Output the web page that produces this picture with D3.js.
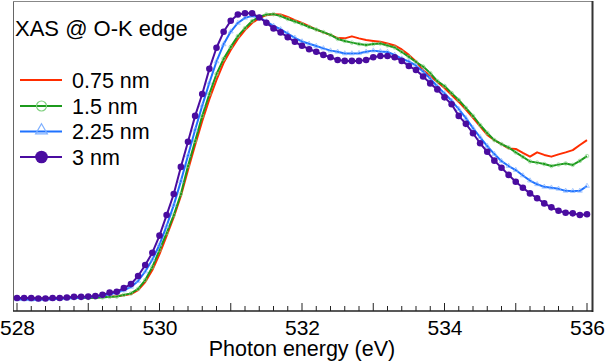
<!DOCTYPE html>
<html><head><meta charset="utf-8">
<script src="https://cdn.jsdelivr.net/npm/d3@7"></script>
<style>
html,body{margin:0;padding:0;background:#fff;}
svg text{font-family:"Liberation Sans", Arial, sans-serif;fill:#000;}
</style></head>
<body>
<svg id="c" width="605" height="361"></svg>
<script>
// Photon energy grid 528.0 .. 536.0 eV, step 0.1 (listed explicitly)
const energy = [528.0,528.1,528.2,528.3,528.4,528.5,528.6,528.7,528.8,528.9,
529.0,529.1,529.2,529.3,529.4,529.5,529.6,529.7,529.8,529.9,
530.0,530.1,530.2,530.3,530.4,530.5,530.6,530.7,530.8,530.9,
531.0,531.1,531.2,531.3,531.4,531.5,531.6,531.7,531.8,531.9,
532.0,532.1,532.2,532.3,532.4,532.5,532.6,532.7,532.8,532.9,
533.0,533.1,533.2,533.3,533.4,533.5,533.6,533.7,533.8,533.9,
534.0,534.1,534.2,534.3,534.4,534.5,534.6,534.7,534.8,534.9,
535.0,535.1,535.2,535.3,535.4,535.5,535.6,535.7,535.8,535.9,536.0];

// Normalized XAS intensity (a.u., peak = 100)
const s075 = [0,0,0,-0.1,-0.1,0,0,0.1,0.1,0.2,
0.2,0.3,0.4,0.5,0.6,1.0,1.4,2.8,5.6,9.8,
15.4,21.8,28.4,35.8,44.9,53.7,62.1,69.8,76.5,82.5,
87.0,90.9,94.0,96.5,98.2,99.3,99.6,99.5,98.6,97.5,
96.5,95.4,94.2,93.2,92.3,91.2,91.1,91.8,91.1,90.5,
90.2,89.9,89.3,88.6,87.2,85.3,83.0,80.0,77.9,75.8,
73.7,71.2,68.8,66.1,63.2,60.2,57.2,55.4,54.0,52.5,
52.3,50.9,49.6,51.1,50.2,49.6,50.4,51.1,51.9,53.7,55.4];

const s15 = [-0.2,-0.2,-0.3,-0.3,-0.2,-0.2,-0.1,0,0,0.1,
0,0.1,0.2,0.4,0.5,1.1,1.6,3.2,6.3,10.9,
16.8,22.8,29.1,36.5,46.3,55.1,63.9,71.6,78.6,83.9,
88.1,91.9,94.7,97.2,98.6,99.5,99.6,98.9,97.9,97.0,
96.1,95.1,94.2,93.3,92.3,90.9,90.2,89.6,89.1,88.8,
89.1,89.3,88.6,87.9,86.3,84.6,82.8,81.2,78.9,76.1,
74.4,71.9,69.5,66.7,63.9,60.7,57.9,55.4,54.0,52.8,
51.1,49.5,47.9,47.5,47.0,46.3,46.8,47.2,46.7,48.1,49.8];

const s225 = [-0.5,-0.5,-0.6,-0.6,-0.5,-0.4,-0.3,-0.2,0,0.1,
0.3,0.5,0.8,1.3,1.9,2.7,3.9,6.0,9.3,13.5,
18.7,25.3,32.6,41.0,50.0,59.0,67.5,75.5,83.0,89.0,
93.5,96.5,98.3,99.0,98.5,97.0,95.5,94.3,92.8,91.3,
90.0,89.2,88.4,87.6,86.8,86.4,85.8,85.8,85.9,86.4,
86.8,86.5,86.3,85.3,84.0,83.0,81.5,79.5,77.0,74.2,
71.8,69.2,66.3,63.1,59.6,56.4,53.3,50.5,48.0,46.3,
44.9,43.0,41.2,39.9,39.0,38.7,38.3,37.6,37.5,37.6,39.3];

const s3 = [0,0,0,-0.2,-0.2,0,0,0.2,0.4,0.4,
0.5,0.7,1.1,1.9,2.2,3.5,4.9,7.7,11.6,15.9,
21.9,29.1,36.5,46.0,54.8,63.9,71.6,80.4,87.8,93.4,
97.3,99.5,99.9,99.9,98.4,96.6,94.6,93.2,91.5,89.9,
88.5,87.3,86.4,85.3,84.5,83.5,83.2,83.2,83.2,83.5,
84.5,84.9,84.9,84.5,83.2,81.4,80.0,77.7,75.3,73.2,
70.4,68.0,63.9,61.1,57.8,54.3,51.3,48.2,45.7,43.2,
40.8,38.7,36.7,35.0,33.2,31.8,30.6,29.9,29.7,29.1,29.4];

const seriesNames = ["0.75 nm","1.5 nm","2.25 nm","3 nm"];
const xTickLabels = [528,530,532,534,536];
const title = "XAS @ O-K edge";
const xTitle = "Photon energy (eV)";

const colors = ["#ff2d00","#1c9a1c","#1f72ff","#4a0ca0"];
const markerColors = ["none","#7fd07f","#7fb0ff","#4a0ca0"];

const svg = d3.select("#c");
const x = d3.scaleLinear().domain([528,536]).range([17,587]);
const y = d3.scaleLinear().domain([0,100]).range([298,13]);

// frame
svg.append("line").attr("x1",13.5).attr("x2",13.5).attr("y1",1).attr("y2",311).attr("stroke","#666").attr("stroke-width",1);
svg.append("line").attr("x1",13).attr("x2",593).attr("y1",1.5).attr("y2",1.5).attr("stroke","#888").attr("stroke-width",1);
svg.append("line").attr("x1",592.5).attr("x2",592.5).attr("y1",1).attr("y2",312).attr("stroke","#333").attr("stroke-width",2);

// x axis: minor ticks 0.2 eV, major 1 eV, labels every 2 eV
const gx = svg.append("g").attr("transform","translate(0,311)");
const minor = d3.range(0,41).map(i=>528+i*0.2);
gx.selectAll("line.mn").data(minor).join("line")
  .attr("x1",d=>x(d)).attr("x2",d=>x(d))
  .attr("y1",0).attr("y2",d=>Math.abs(d-Math.round(d))<1e-6 ? -8 : -5)
  .attr("stroke","#222").attr("stroke-width",1);
svg.append("line").attr("x1",13).attr("x2",593).attr("y1",311).attr("y2",311).attr("stroke","#222").attr("stroke-width",1.5);
const axis = d3.axisBottom(x).tickValues(xTickLabels).tickSize(0).tickPadding(0).tickFormat(d3.format("d"));
const ga = svg.append("g").attr("transform","translate(0,320)").call(axis);
ga.select(".domain").remove();
ga.selectAll("text").attr("font-size",21).attr("dy","0.72em").style("font-family","'Liberation Sans', Arial, sans-serif").attr("fill","#000");

svg.append("text").attr("x",302).attr("y",356).attr("text-anchor","middle").attr("font-size",21.5).text(xTitle);

// data lines
const all = [s075,s15,s225,s3];
const line = d3.line().x(d=>x(d[0])).y(d=>y(d[1]));
all.forEach((s,i)=>{
  const pts = energy.map((e,j)=>[e,s[j]]);
  svg.append("path").datum(pts).attr("d",line).attr("fill","none")
    .attr("stroke",colors[i]).attr("stroke-width",2).attr("stroke-linejoin","round");
  if(i===1){
    svg.append("g").selectAll("circle").data(pts).join("circle")
      .attr("cx",d=>x(d[0])).attr("cy",d=>y(d[1])).attr("r",1.8)
      .attr("fill","none").attr("stroke",markerColors[1]).attr("stroke-width",0.8).attr("opacity",0.8);
  }
  if(i===2){
    const tri = d3.symbol().type(d3.symbolTriangle).size(10);
    svg.append("g").selectAll("path").data(pts).join("path")
      .attr("transform",d=>`translate(${x(d[0])},${y(d[1])})`).attr("d",tri)
      .attr("fill","none").attr("stroke",markerColors[2]).attr("stroke-width",0.8).attr("opacity",0.8);
  }
  if(i===3){
    svg.append("g").selectAll("circle").data(pts).join("circle")
      .attr("cx",d=>x(d[0])).attr("cy",d=>y(d[1])).attr("r",3.3)
      .attr("fill",colors[3]);
  }
});

// title & legend
svg.append("text").attr("x",15).attr("y",36).attr("font-size",22).text(title);
const ly = [80,106,131.5,157];
seriesNames.forEach((n,i)=>{
  const g = svg.append("g");
  g.append("line").attr("x1",20).attr("x2",62).attr("y1",ly[i]).attr("y2",ly[i]).attr("stroke",colors[i]).attr("stroke-width",2);
  if(i===1) g.append("circle").attr("cx",41.5).attr("cy",ly[i]).attr("r",5).attr("fill","none").attr("stroke",markerColors[1]).attr("stroke-width",1.2);
  if(i===2) g.append("path").attr("transform",`translate(41.5,${ly[i]-1})`).attr("d",d3.symbol().type(d3.symbolTriangle).size(60)).attr("fill","none").attr("stroke",markerColors[2]).attr("stroke-width",1.2);
  if(i===3) g.append("circle").attr("cx",41.5).attr("cy",ly[i]).attr("r",6.3).attr("fill",colors[3]);
  g.append("text").attr("x",72).attr("y",ly[i]+7.5).attr("font-size",21.5).text(n);
});
</script>
</body></html>
